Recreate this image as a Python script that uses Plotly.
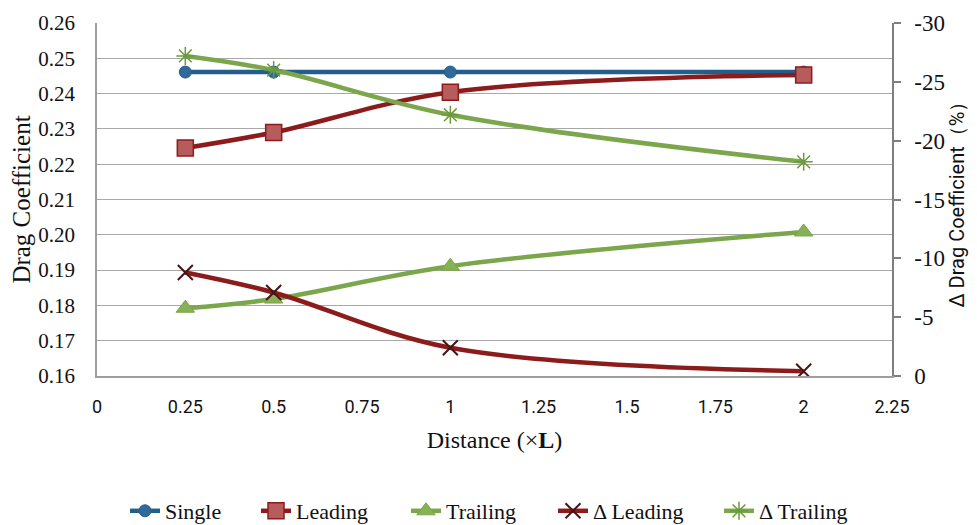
import plotly.graph_objects as go

distance = [0.25, 0.5, 1, 2]
single = [0.2461, 0.2461, 0.2461, 0.2461]
leading = [0.2246, 0.2290, 0.2404, 0.2453]
trailing = [0.1792, 0.1818, 0.1911, 0.2008]
d_leading = [-8.8, -7.1, -2.4, -0.4]
d_trailing = [-27.2, -26.0, -22.2, -18.2]

x_ticks = [0, 0.25, 0.5, 0.75, 1, 1.25, 1.5, 1.75, 2, 2.25]
x_ticklabels = ["0", "0.25", "0.5", "0.75", "1", "1.25", "1.5", "1.75", "2", "2.25"]
y_ticks = [0.16, 0.17, 0.18, 0.19, 0.20, 0.21, 0.22, 0.23, 0.24, 0.25, 0.26]
y_ticklabels = ["0.16", "0.17", "0.18", "0.19", "0.20", "0.21", "0.22", "0.23", "0.24", "0.25", "0.26"]
y2_ticks = [0, -5, -10, -15, -20, -25, -30]
y2_ticklabels = ["0", "-5", "-10", "-15", "-20", "-25", "-30"]

SERIF = "Liberation Serif"
SANS = "Roboto"

BLUE = "#245E8C"
RED = "#8C1C1C"
RED_FILL = "#B65C5C"
GREEN = "#7BA64B"

# figure is offset by the page's 8px body margin
W, H = 969, 517
legend_x_px = [117, 248, 398, 545, 711]   # legend left edges in figure px
legend_y_px = 503

fig = go.Figure()
fig.add_trace(go.Scatter(
    x=distance, y=single, name="Single", mode="lines+markers", legend="legend",
    line=dict(color=BLUE, width=4.5, shape="spline"),
    marker=dict(symbol="circle", size=12, color="#2F6A98", line=dict(color=BLUE, width=1)),
))
fig.add_trace(go.Scatter(
    x=distance, y=leading, name="Leading", mode="lines+markers", legend="legend2",
    line=dict(color=RED, width=4.5, shape="spline"),
    marker=dict(symbol="square", size=16, color=RED_FILL, line=dict(color=RED, width=1.5)),
))
fig.add_trace(go.Scatter(
    x=distance, y=trailing, name="Trailing", mode="lines+markers", legend="legend3",
    line=dict(color=GREEN, width=4.5, shape="spline"),
    marker=dict(symbol="triangle-up", size=16, color="#86B155", line=dict(color=GREEN, width=1)),
))
fig.add_trace(go.Scatter(
    x=distance, y=d_leading, name="Δ Leading", mode="lines+markers", yaxis="y2", legend="legend4",
    line=dict(color=RED, width=4.5, shape="spline"),
    marker=dict(symbol="x-thin", size=15, color="#4A1414", line=dict(color="#4A1414", width=2)),
))
fig.add_trace(go.Scatter(
    x=distance, y=d_trailing, name="Δ Trailing", mode="lines+markers", yaxis="y2", legend="legend5",
    line=dict(color=GREEN, width=4.5, shape="spline"),
    marker=dict(symbol="asterisk", size=15, color="#6A9A3A", line=dict(color="#6A9A3A", width=1.5)),
))

legend_common = dict(
    xref="container", yref="container", xanchor="left", yanchor="middle",
    font=dict(family=SERIF, size=22, color="#111111"),
    bgcolor="rgba(0,0,0,0)", borderwidth=0, orientation="h",
)
legends = {}
for i, lx in enumerate(legend_x_px):
    key = "legend" if i == 0 else f"legend{i + 1}"
    legends[key] = dict(legend_common, x=lx / W, y=1 - legend_y_px / H)

fig.update_layout(
    width=W, height=H,
    margin=dict(l=89, r=85, t=15, b=149),
    paper_bgcolor="white", plot_bgcolor="white",
    showlegend=True,
    **legends,
    xaxis=dict(
        range=[0, 2.25], tickvals=x_ticks, ticktext=x_ticklabels,
        showgrid=False, zeroline=False, automargin=False,
        showline=True, linecolor="#9E9E9E", linewidth=1.5,
        ticks="", ticklabelstandoff=14,
        tickfont=dict(family=SANS, size=18, color="#111111"),
        title=dict(text="Distance (×<b>L</b>)", font=dict(family=SERIF, size=24, color="#111111"), standoff=15),
    ),
    yaxis=dict(
        range=[0.16, 0.26], tickvals=y_ticks, ticktext=y_ticklabels,
        showgrid=True, gridcolor="#A8A8A8", gridwidth=1.2,
        zeroline=False, automargin=False,
        showline=True, linecolor="#9E9E9E", linewidth=1.5,
        ticks="", ticklabelstandoff=16,
        tickfont=dict(family=SERIF, size=21, color="#111111"),
        title=dict(text="Drag Coefficient", font=dict(family=SERIF, size=25, color="#111111"), standoff=6),
    ),
    yaxis2=dict(
        overlaying="y", side="right", anchor="x", automargin=False,
        range=[0, -30], tickvals=y2_ticks, ticktext=y2_ticklabels,
        showgrid=False, zeroline=False,
        showline=True, linecolor="#7F7F7F", linewidth=1.5,
        ticks="outside", ticklen=7, tickcolor="#7F7F7F", tickwidth=1.5,
        ticklabelstandoff=9,
        tickfont=dict(family=SERIF, size=23, color="#111111"),
        title=dict(text="Δ Drag Coefficient（%）", font=dict(family=SANS, size=20, color="#111111"), standoff=6),
    ),
)

fig.write_html("out.html")
